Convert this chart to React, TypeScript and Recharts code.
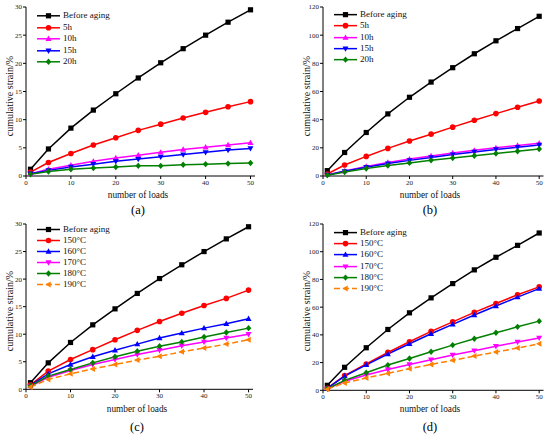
import React from 'react';
import { LineChart, Line, XAxis, YAxis, Legend } from 'recharts';

const loads = [1, 5, 10, 15, 20, 25, 30, 35, 40, 45, 50];

// panel (a)
const aBefore = [1.2, 4.8, 8.5, 11.7, 14.6, 17.4, 20.1, 22.6, 25.0, 27.3, 29.5];
const a5h = [0.7, 2.4, 4.0, 5.5, 6.8, 8.1, 9.2, 10.3, 11.3, 12.3, 13.2];
const a10h = [0.4, 1.2, 1.9, 2.6, 3.2, 3.7, 4.2, 4.7, 5.1, 5.5, 5.9];
const a15h = [0.4, 1.0, 1.6, 2.1, 2.6, 3.0, 3.4, 3.8, 4.2, 4.6, 4.9];
const a20h = [0.3, 0.8, 1.2, 1.4, 1.6, 1.8, 1.8, 2.0, 2.1, 2.2, 2.3];

// panel (b)
const bBefore = [3.8, 16.7, 30.9, 44.1, 55.9, 66.7, 76.9, 86.8, 96.0, 104.7, 113.4];
const b5h = [1.4, 7.8, 13.9, 19.6, 24.8, 29.7, 34.7, 39.6, 44.3, 48.8, 53.3];
const b10h = [0.8, 3.6, 6.8, 9.6, 12.0, 14.2, 16.3, 18.2, 20.0, 21.7, 23.3];
const b15h = [0.7, 3.3, 6.2, 8.8, 11.1, 13.2, 15.2, 17.0, 18.8, 20.4, 22.0];
const b20h = [0.6, 2.8, 5.3, 7.5, 9.3, 11.1, 12.7, 14.4, 16.0, 17.6, 19.2];

// panel (c)
const cBefore = [1.2, 4.8, 8.5, 11.7, 14.6, 17.4, 20.1, 22.6, 25.0, 27.3, 29.5];
const c150 = [0.8, 3.3, 5.4, 7.2, 9.0, 10.7, 12.3, 13.8, 15.2, 16.5, 18.0];
const c160 = [0.7, 2.8, 4.5, 5.9, 7.1, 8.2, 9.3, 10.2, 11.1, 11.9, 12.8];
const c170 = [0.5, 2.2, 3.4, 4.5, 5.4, 6.3, 7.1, 7.9, 8.6, 9.3, 10.0];
const c180 = [0.6, 2.4, 3.6, 4.8, 5.9, 6.9, 7.8, 8.6, 9.5, 10.3, 11.1];
const c190 = [0.4, 1.8, 2.8, 3.7, 4.5, 5.3, 6.0, 6.8, 7.5, 8.2, 9.0];

// panel (d)
const dBefore = [3.6, 16.6, 30.7, 43.9, 55.9, 66.7, 77.0, 86.9, 96.0, 104.6, 113.5];
const d150 = [1.5, 10.6, 19.0, 27.4, 35.0, 42.5, 49.4, 56.2, 62.6, 68.9, 74.6];
const d160 = [1.4, 10.2, 18.4, 26.2, 33.6, 40.8, 47.6, 54.3, 60.8, 67.2, 73.4];
const d170 = [1.0, 6.5, 11.0, 15.0, 18.6, 22.0, 25.5, 28.6, 31.8, 34.8, 37.8];
const d180 = [1.2, 7.2, 12.7, 18.2, 23.0, 27.8, 32.6, 37.2, 41.5, 45.8, 49.9];
const d190 = [0.8, 5.3, 8.9, 12.2, 15.6, 18.7, 21.6, 24.7, 27.6, 30.5, 33.6];

const xTicks = [0, 10, 20, 30, 40, 50];
const yTicksSmall = [0, 5, 10, 15, 20, 25, 30];
const yTicksLarge = [0, 20, 40, 60, 80, 100, 120];

const agingNames = ['Before aging', '5h', '10h', '15h', '20h'];
const tempNames = ['Before aging', '150°C', '160°C', '170°C', '180°C', '190°C'];

const FONT = '"Times New Roman", "Liberation Serif", "DejaVu Serif", serif';

type MarkerType = 'square' | 'circle' | 'up' | 'down' | 'diamond' | 'left';

interface SeriesDef {
  name: string;
  values: number[];
  color: string;
  marker: MarkerType;
  dashed?: boolean;
}

const Marker = ({ cx, cy, type, color }: { cx: number; cy: number; type: MarkerType; color: string }) => {
  const s = 2.6;
  if (cx == null || cy == null || isNaN(cx) || isNaN(cy)) return null;
  switch (type) {
    case 'square':
      return <rect x={cx - s} y={cy - s} width={2 * s} height={2 * s} fill={color} />;
    case 'circle':
      return <circle cx={cx} cy={cy} r={s + 0.2} fill={color} />;
    case 'up':
      return <polygon points={`${cx},${cy - s - 0.6} ${cx - s - 0.4},${cy + s - 0.4} ${cx + s + 0.4},${cy + s - 0.4}`} fill={color} />;
    case 'down':
      return <polygon points={`${cx},${cy + s + 0.6} ${cx - s - 0.4},${cy - s + 0.4} ${cx + s + 0.4},${cy - s + 0.4}`} fill={color} />;
    case 'diamond':
      return <polygon points={`${cx},${cy - s - 0.6} ${cx + s + 0.2},${cy} ${cx},${cy + s + 0.6} ${cx - s - 0.2},${cy}`} fill={color} />;
    case 'left':
      return <polygon points={`${cx - s - 0.6},${cy} ${cx + s - 0.4},${cy - s - 0.4} ${cx + s - 0.4},${cy + s + 0.4}`} fill={color} />;
  }
  return null;
};

const makeLegend = (series: SeriesDef[], rowH: number) => () => (
  <div style={{ fontFamily: FONT, fontSize: 9, color: '#111' }}>
    {series.map((s) => (
      <div key={s.name} style={{ display: 'flex', alignItems: 'center', height: rowH }}>
        <svg width={23} height={rowH} style={{ display: 'block' }}>
          <line x1={0} x2={23} y1={rowH / 2} y2={rowH / 2} stroke={s.color} strokeWidth={1.5} strokeDasharray={s.dashed ? '6 3' : undefined} />
          <Marker cx={11.5} cy={rowH / 2} type={s.marker} color={s.color} />
        </svg>
        <span style={{ marginLeft: 3, lineHeight: `${rowH}px`, whiteSpace: 'nowrap' }}>{s.name}</span>
      </div>
    ))}
  </div>
);

interface PanelProps {
  left: number;
  top: number;
  series: SeriesDef[];
  yMax: number;
  yTicks: number[];
  yAxisWidth: number;
  rightMargin: number;
  topMargin: number;
  xAxisHeight: number;
  legendLeft: number;
  legendTop: number;
  rowH: number;
  yLabelX: number;
  yLabelY: number;
  xLabelX: number;
  xLabelY: number;
  letter: string;
  letterY: number;
}

const Panel = (p: PanelProps) => {
  const data = loads.map((x, i) => {
    const row: Record<string, number> = { x };
    p.series.forEach((s) => {
      row[s.name] = s.values[i];
    });
    return row;
  });
  return (
    <div style={{ position: 'absolute', left: p.left, top: p.top, width: 275, height: 217 }}>
      <LineChart
        width={275}
        height={217}
        data={data}
        margin={{ top: p.topMargin, right: p.rightMargin, left: 0, bottom: 0 }}
      >
        <XAxis
          dataKey="x"
          type="number"
          domain={[0, 51]}
          ticks={xTicks}
          height={p.xAxisHeight}
          tickSize={3}
          tickMargin={1}
          stroke="#000"
          tick={{ fontSize: 7, fontFamily: FONT, fill: '#222' }}
          allowDataOverflow
        />
        <YAxis
          type="number"
          domain={[0, p.yMax]}
          ticks={p.yTicks}
          width={p.yAxisWidth}
          tickSize={3}
          tickMargin={1}
          stroke="#000"
          tick={{ fontSize: 7, fontFamily: FONT, fill: '#222' }}
          interval={0}
        />
        <Legend
          layout="horizontal"
          verticalAlign="middle"
          align="center"
          content={makeLegend(p.series, p.rowH)}
          wrapperStyle={{ left: p.legendLeft, top: p.legendTop, width: 'auto', height: 'auto' }}
        />
        {p.series.map((s) => (
          <Line
            key={s.name}
            dataKey={s.name}
            name={s.name}
            stroke={s.color}
            strokeWidth={1.5}
            strokeDasharray={s.dashed ? '6 3' : undefined}
            isAnimationActive={false}
            dot={(d: any) => <Marker key={`${s.name}-${d.index}`} cx={d.cx} cy={d.cy} type={s.marker} color={s.color} />}
            activeDot={false}
          />
        ))}
      </LineChart>
      <div
        style={{
          position: 'absolute',
          left: p.yLabelX,
          top: p.yLabelY,
          transform: 'translate(-50%, -50%) rotate(-90deg)',
          fontFamily: FONT,
          fontSize: 10,
          whiteSpace: 'nowrap',
          color: '#111',
        }}
      >
        cumulative strain/%
      </div>
      <div
        style={{
          position: 'absolute',
          left: p.xLabelX,
          top: p.xLabelY,
          transform: 'translate(-50%, -50%)',
          fontFamily: FONT,
          fontSize: 9.3,
          whiteSpace: 'nowrap',
          color: '#111',
        }}
      >
        number of loads
      </div>
      <div
        style={{
          position: 'absolute',
          left: p.xLabelX,
          top: p.letterY,
          transform: 'translate(-50%, -50%)',
          fontFamily: FONT,
          fontSize: 12.5,
          whiteSpace: 'nowrap',
          color: '#000',
        }}
      >
        {p.letter}
      </div>
    </div>
  );
};

const agingColors = ['#000000', '#ff0000', '#ff00ff', '#0000ff', '#008000'];
const agingMarkers: MarkerType[] = ['square', 'circle', 'up', 'down', 'diamond'];
const tempColors = ['#000000', '#ff0000', '#0000ff', '#ff00ff', '#008000', '#ff8000'];
const tempMarkers: MarkerType[] = ['square', 'circle', 'up', 'down', 'diamond', 'left'];

const build = (names: string[], values: number[][], colors: string[], markers: MarkerType[]): SeriesDef[] =>
  names.map((n, i) => ({ name: n, values: values[i], color: colors[i], marker: markers[i], dashed: markers[i] === 'left' }));

const seriesA = build(agingNames, [aBefore, a5h, a10h, a15h, a20h], agingColors, agingMarkers);
const seriesB = build(agingNames, [bBefore, b5h, b10h, b15h, b20h], agingColors, agingMarkers);
const seriesC = build(tempNames, [cBefore, c150, c160, c170, c180, c190], tempColors, tempMarkers);
const seriesD = build(tempNames, [dBefore, d150, d160, d170, d180, d190], tempColors, tempMarkers);

export default function App() {
  return (
    <div style={{ position: 'fixed', left: 0, top: 0, width: 550, height: 434, background: '#fff', overflow: 'hidden' }}>
      <Panel
        left={0} top={0} series={seriesA} yMax={30} yTicks={yTicksSmall} yAxisWidth={26} rightMargin={20}
        topMargin={7} xAxisHeight={41} legendLeft={37} legendTop={10} rowH={11.6}
        yLabelX={9} yLabelY={96} xLabelX={138} xLabelY={195} letter="(a)" letterY={210}
      />
      <Panel
        left={275} top={0} series={seriesB} yMax={120} yTicks={yTicksLarge} yAxisWidth={48} rightMargin={6.5}
        topMargin={7} xAxisHeight={41} legendLeft={59} legendTop={9} rowH={11.3}
        yLabelX={30.5} yLabelY={96} xLabelX={155} xLabelY={195} letter="(b)" letterY={210}
      />
      <Panel
        left={0} top={217} series={seriesC} yMax={30} yTicks={yTicksSmall} yAxisWidth={26} rightMargin={22}
        topMargin={7} xAxisHeight={44.7} legendLeft={37} legendTop={7} rowH={11}
        yLabelX={9} yLabelY={94} xLabelX={137} xLabelY={192} letter="(c)" letterY={210}
      />
      <Panel
        left={275} top={217} series={seriesD} yMax={120} yTicks={yTicksLarge} yAxisWidth={48} rightMargin={6.5}
        topMargin={7} xAxisHeight={43.7} legendLeft={59} legendTop={10} rowH={11.2}
        yLabelX={30.5} yLabelY={94} xLabelX={155} xLabelY={192} letter="(d)" letterY={210}
      />
    </div>
  );
}
